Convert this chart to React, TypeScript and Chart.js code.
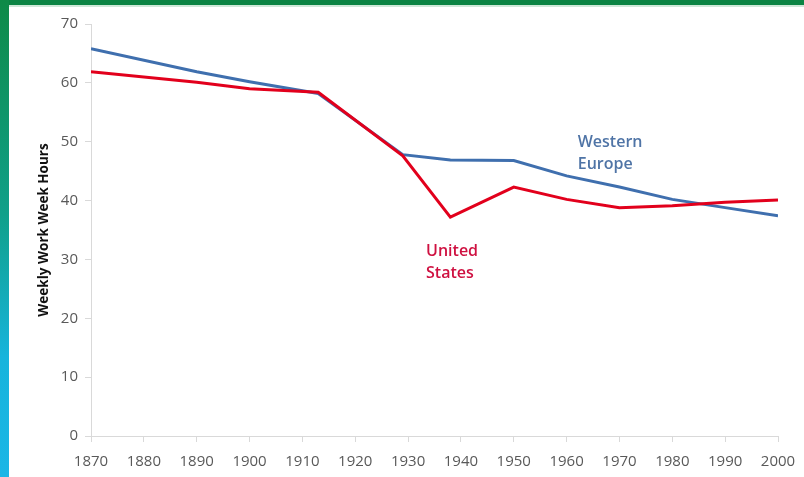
import React, { useEffect, useRef } from "react";
import { Chart, registerables } from "chart.js";

Chart.register(...registerables);

const years = [1870, 1890, 1900, 1913, 1929, 1938, 1950, 1960, 1970, 1980, 1990, 2000];
const westernEurope = [65.8, 61.9, 60.2, 58.2, 47.8, 46.9, 46.8, 44.2, 42.3, 40.2, 38.8, 37.4];
const unitedStates = [61.9, 60.1, 59.0, 58.4, 47.6, 37.2, 42.3, 40.2, 38.8, 39.1, 39.7, 40.1];
const yTicks = [0, 10, 20, 30, 40, 50, 60, 70];
const xTicks = [1870, 1880, 1890, 1900, 1910, 1920, 1930, 1940, 1950, 1960, 1970, 1980, 1990, 2000];

const annotations = [
  { lines: ["Western", "Europe"], x: 1962.1, y: 49.9, color: "#4f74a6" },
  { lines: ["United", "States"], x: 1933.4, y: 31.4, color: "#cf1141" },
];

const labelPlugin = {
  id: "seriesLabels",
  afterDatasetsDraw(chart: any) {
    const ctx = chart.ctx;
    const xs = chart.scales.x;
    const ys = chart.scales.y;
    ctx.save();
    ctx.font = "600 16px 'Open Sans'";
    ctx.textAlign = "left";
    ctx.textBaseline = "middle";
    annotations.forEach((a) => {
      ctx.fillStyle = a.color;
      const px = xs.getPixelForValue(a.x);
      const py = ys.getPixelForValue(a.y);
      a.lines.forEach((l, i) => ctx.fillText(l, px, py + i * 22));
    });
    ctx.restore();
  },
};

export default function App() {
  const ref = useRef<HTMLCanvasElement>(null);
  useEffect(() => {
    if (!ref.current) return;
    Chart.defaults.font.family = "'Open Sans'";
    const chart = new Chart(ref.current, {
      type: "line",
      data: {
        datasets: [
          {
            label: "United States",
            data: years.map((y, i) => ({ x: y, y: unitedStates[i] })),
            borderColor: "#e2001c",
            borderWidth: 3,
            pointRadius: 0,
            tension: 0,
          },
          {
            label: "Western Europe",
            data: years.map((y, i) => ({ x: y, y: westernEurope[i] })),
            borderColor: "#3f6fae",
            borderWidth: 3,
            pointRadius: 0,
            tension: 0,
          },
        ],
      },
      options: {
        animation: false,
        responsive: false,
        devicePixelRatio: 1,
        layout: { padding: { left: 30, top: 24, right: 26, bottom: 0 } },
        plugins: { legend: { display: false }, tooltip: { enabled: false } },
        scales: {
          x: {
            type: "linear",
            min: xTicks[0],
            max: xTicks[xTicks.length - 1],
            afterBuildTicks: (s: any) => {
              s.ticks = xTicks.map((v) => ({ value: v }));
            },
            afterFit: (s: any) => {
              s.height = 41;
              s.paddingLeft = 0;
              s.paddingRight = 0;
            },
            ticks: {
              callback: (v: any) => String(v),
              color: "#595959",
              font: { size: 15 },
              padding: 11,
              maxRotation: 0,
              autoSkip: false,
            },
            grid: { drawOnChartArea: false, tickLength: 6, color: "#d9d9d9" },
            border: { color: "#d9d9d9" },
          },
          y: {
            type: "linear",
            min: yTicks[0],
            max: yTicks[yTicks.length - 1],
            afterBuildTicks: (s: any) => {
              s.ticks = yTicks.map((v) => ({ value: v }));
            },
            afterFit: (s: any) => {
              s.width = 61;
            },
            ticks: { color: "#595959", font: { size: 15 }, padding: 7 },
            grid: { drawOnChartArea: false, tickLength: 6, color: "#d9d9d9" },
            border: { color: "#d9d9d9" },
            title: {
              display: true,
              text: "Weekly Work Week Hours",
              color: "#111111",
              font: { size: 13.5, weight: "bold" },
              padding: { top: 6, bottom: 0 },
            },
          },
        },
      },
      plugins: [labelPlugin],
    });
    return () => chart.destroy();
  }, []);

  return (
    <div style={{ position: "fixed", left: 0, top: 0, width: 804, height: 477, background: "#ffffff", overflow: "hidden" }}>
      <canvas ref={ref} width={804} height={477} style={{ position: "absolute", left: 0, top: 0 }} />
      <div style={{ position: "absolute", left: 0, top: 0, width: 804, height: 5, background: "#0b8443" }} />
      <div style={{ position: "absolute", left: 0, top: 5, width: 804, height: 2, background: "#cfe8d8" }} />
      <div
        style={{
          position: "absolute",
          left: 0,
          top: 0,
          width: 9,
          height: 477,
          background: "linear-gradient(to bottom, #0e8a47 0%, #10a08a 45%, #17b4dc 75%, #1ab6e6 100%)",
        }}
      />
    </div>
  );
}
